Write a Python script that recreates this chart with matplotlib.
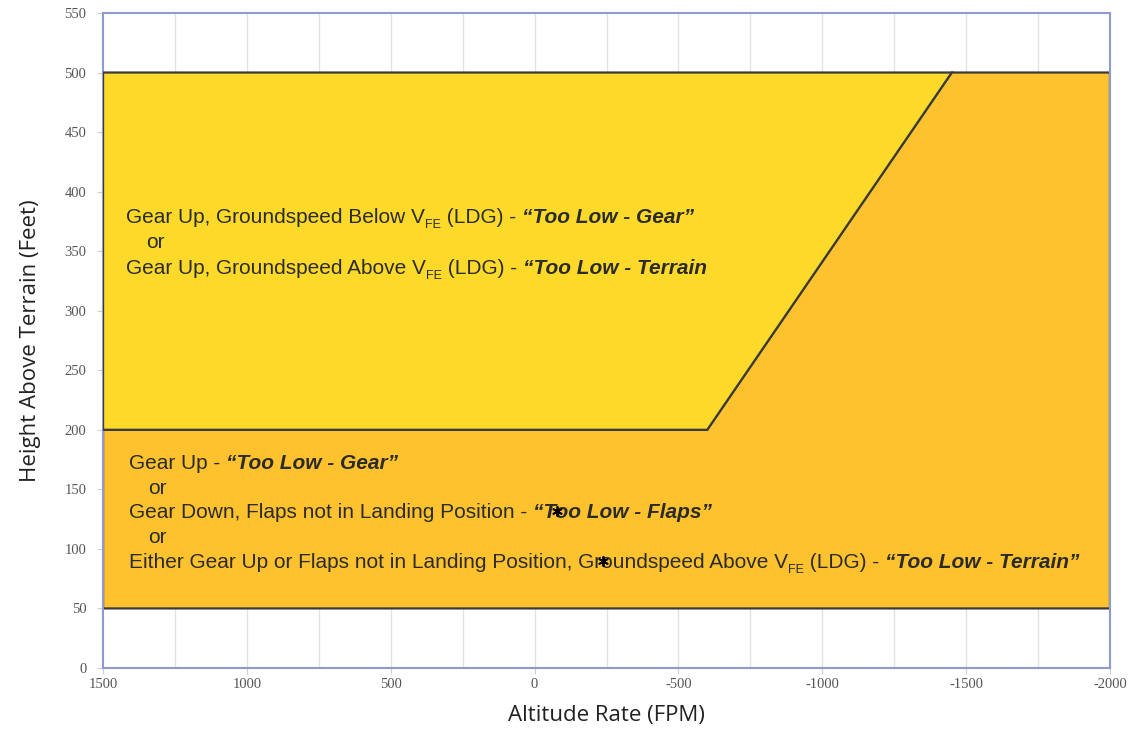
import matplotlib
matplotlib.use("Agg")
import matplotlib.pyplot as plt
from matplotlib.patches import Polygon
from matplotlib.transforms import offset_copy

# Alert envelope boundaries (altitude rate in FPM, height in feet)
upper_rate = [1500, -600, -1450, 1500]
upper_height = [200, 200, 500, 500]
lower_rate = [1500, -2000, -2000, -1450, -600, 1500]
lower_height = [50, 50, 500, 500, 200, 200]

x_ticks = [1500, 1000, 500, 0, -500, -1000, -1500, -2000]
x_grid = [1250, 750, 250, -250, -750, -1250, -1750]
y_ticks = [0, 50, 100, 150, 200, 250, 300, 350, 400, 450, 500, 550]

# stray asterisk marks in the source image
star_x = [-78, -238]
star_y = [132, 90]

YELLOW = '#FDDA2A'
ORANGE = '#FEC22E'
EDGE = '#3a3a3a'
SPINE = '#8E9BD0'
TXT = '#2b2b2b'
FS = 15

fig = plt.figure(figsize=(11.3, 7.29), dpi=100)
ax = fig.add_axes([0.0912, 0.0837, 0.8911, 0.8985])
ax.set_xlim(1500, -2000)
ax.set_ylim(0, 550)

for g in x_grid + x_ticks[1:-1]:
    ax.axvline(g, color='#e2e2e2', lw=1, zorder=0)

ax.add_patch(Polygon(list(zip(lower_rate, lower_height)), closed=True,
                     facecolor=ORANGE, edgecolor=EDGE, lw=1.6, zorder=2))
ax.add_patch(Polygon(list(zip(upper_rate, upper_height)), closed=True,
                     facecolor=YELLOW, edgecolor=EDGE, lw=1.6, zorder=3))

for s in ax.spines.values():
    s.set_color(SPINE)
    s.set_linewidth(1.5)

ax.set_xticks(x_ticks)
ax.set_xticklabels([str(t) for t in x_ticks])
ax.set_yticks(y_ticks)
ax.tick_params(axis='both', colors='#d0d0d0', labelcolor='#555555',
               labelsize=10.5, length=4)
ax.tick_params(axis='y', pad=8)
for lab in ax.get_xticklabels() + ax.get_yticklabels():
    lab.set_family('Liberation Serif')

ax.set_xlabel('Altitude Rate (FPM)', fontsize=16, family='Open Sans',
              color='#222222', labelpad=10)
ax.set_ylabel('Height Above Terrain (Feet)', fontsize=16, family='Open Sans',
              color='#222222', labelpad=17)

fig.canvas.draw()
renderer = fig.canvas.get_renderer()


def rich_line(x, y, parts):
    """Draw a line made of (text, style) segments one after another."""
    dx = 0.0
    for txt, style in parts:
        kw = dict(fontsize=FS, color=TXT, family='Liberation Sans',
                  va='baseline', ha='left', zorder=5)
        dy = 0
        if style == 'bi':
            kw.update(fontweight='bold', fontstyle='italic')
        elif style == 'sub':
            kw.update(fontsize=FS * 0.6)
            dy = -5
        tr = offset_copy(ax.transData, fig=fig, x=dx, y=dy, units='dots')
        t = ax.text(x, y, txt, transform=tr, **kw)
        bb = t.get_window_extent(renderer=renderer)
        dx += bb.width


vfe_below = [('Gear Up, Groundspeed Below V', 'n'), ('FE', 'sub'),
             (' (LDG) - ', 'n'), ('\u201cToo Low - Gear\u201d', 'bi')]
vfe_above = [('Gear Up, Groundspeed Above V', 'n'), ('FE', 'sub'),
             (' (LDG) - ', 'n'), ('\u201cToo Low - Terrain', 'bi')]
rich_line(1420, 374, vfe_below)
rich_line(1350, 353, [('or', 'n')])
rich_line(1420, 331, vfe_above)

rich_line(1410, 167, [('Gear Up - ', 'n'), ('\u201cToo Low - Gear\u201d', 'bi')])
rich_line(1343, 146, [('or', 'n')])
rich_line(1410, 126, [('Gear Down, Flaps not in Landing Position - ', 'n'),
                      ('\u201cToo Low - Flaps\u201d', 'bi')])
rich_line(1343, 105, [('or', 'n')])
rich_line(1410, 84, [('Either Gear Up or Flaps not in Landing Position, Groundspeed Above V', 'n'),
                     ('FE', 'sub'), (' (LDG) - ', 'n'),
                     ('\u201cToo Low - Terrain\u201d', 'bi')])

ax.scatter(star_x, star_y, marker=(6, 2, 0), s=45, linewidths=1.3,
           color='black', zorder=6)

fig.savefig('out.png', dpi=100)
